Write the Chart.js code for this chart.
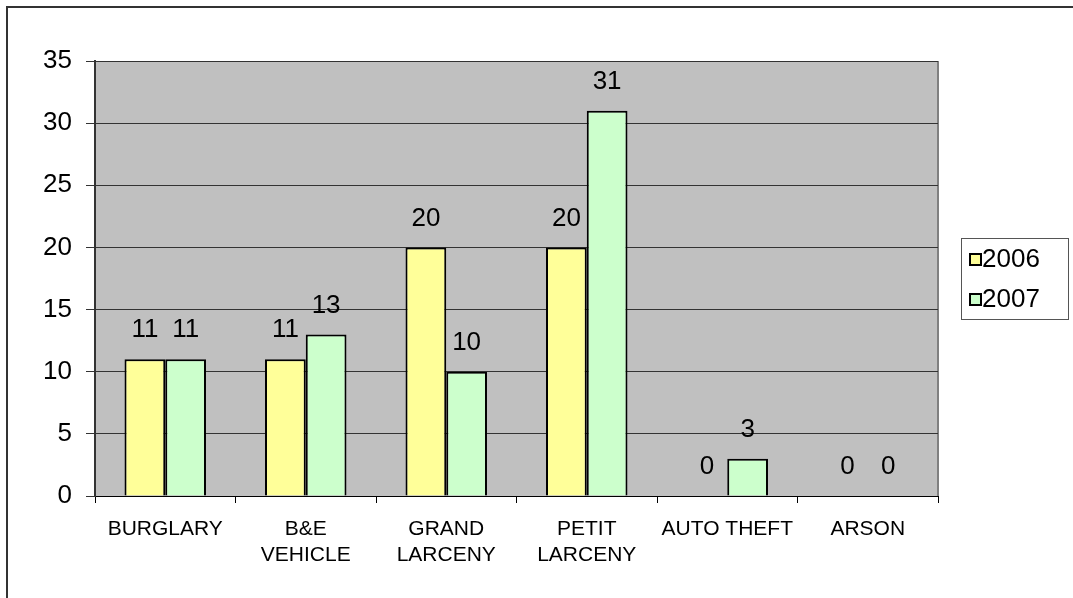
<!DOCTYPE html>
<html lang="en">
<head>
    <meta charset="UTF-8">
    <title>Crimes 2006 / 2007</title>
    <script src="https://cdn.jsdelivr.net/npm/chart.js"></script>
    <style>
        html, body { margin: 0; padding: 0; background: #fff; }
        .wrap { position: relative; width: 1073px; height: 598px; }
    </style>
</head>
<body>
    <div class="wrap">
        <canvas id="barChart" width="1073" height="598"></canvas>
    </div>

    <script>
        // donnees
        const categories = [
            "BURGLARY",
            ["B&E", "VEHICLE"],
            ["GRAND", "LARCENY"],
            ["PETIT", "LARCENY"],
            "AUTO THEFT",
            "ARSON"
        ];
        const values2006 = [11, 11, 20, 20, 0, 0];
        const values2007 = [11, 13, 10, 31, 3, 0];
        const seriesNames = ["2006", "2007"];
        const yTicks = [0, 5, 10, 15, 20, 25, 30, 35];

        const FONT = "'Liberation Sans', Arial, sans-serif";

        // fond gris + cadre exterieur
        const backgroundPlugin = {
            id: 'plotBackground',
            beforeDraw(chart) {
                const { ctx, chartArea: a } = chart;
                ctx.save();
                ctx.fillStyle = '#fff';
                ctx.fillRect(0, 0, chart.width, chart.height);
                ctx.fillStyle = '#C0C0C0';
                ctx.fillRect(a.left, a.top, a.right - a.left, a.bottom - a.top);
                ctx.strokeStyle = '#808080';
                ctx.lineWidth = 2;
                ctx.beginPath();
                ctx.moveTo(a.right, a.top);
                ctx.lineTo(a.right, a.bottom);
                ctx.stroke();
                // cadre de l'image
                ctx.strokeStyle = '#333';
                ctx.lineWidth = 2;
                ctx.beginPath();
                ctx.moveTo(7, chart.height + 2);
                ctx.lineTo(7, 7);
                ctx.lineTo(chart.width + 2, 7);
                ctx.stroke();
                ctx.restore();
            }
        };

        // valeurs au-dessus des barres + legende encadree
        const labelsPlugin = {
            id: 'valueLabels',
            afterDraw(chart) {
                const ctx = chart.ctx;
                ctx.save();
                ctx.font = '26px ' + FONT;
                ctx.fillStyle = '#000';
                ctx.textAlign = 'center';
                ctx.textBaseline = 'middle';
                chart.data.datasets.forEach((ds, i) => {
                    chart.getDatasetMeta(i).data.forEach((bar, j) => {
                        ctx.fillText(String(ds.data[j]), bar.x, bar.y - 29);
                    });
                });

                // legende
                const lx = 961, ly = 238, lw = 107, lh = 81;
                ctx.strokeStyle = '#555';
                ctx.lineWidth = 1;
                ctx.strokeRect(lx + 0.5, ly + 0.5, lw, lh);
                chart.data.datasets.forEach((ds, i) => {
                    const cy = ly + 22 + i * 40;
                    ctx.fillStyle = ds.backgroundColor;
                    ctx.fillRect(lx + 9, cy - 6, 11, 11);
                    ctx.strokeStyle = '#000';
                    ctx.lineWidth = 2;
                    ctx.strokeRect(lx + 9, cy - 6, 11, 11);
                    ctx.fillStyle = '#000';
                    ctx.textAlign = 'left';
                    ctx.fillText(ds.label, lx + 21, cy);
                });
                ctx.restore();
            }
        };

        const ctx = document.getElementById('barChart').getContext('2d');
        const barChart = new Chart(ctx, {
            type: 'bar',
            data: {
                labels: categories,
                datasets: [{
                    label: seriesNames[0],
                    data: values2006,
                    backgroundColor: '#FFFF99',
                    borderColor: '#000',
                    borderWidth: 2,
                    borderSkipped: 'start'
                }, {
                    label: seriesNames[1],
                    data: values2007,
                    backgroundColor: '#CCFFCC',
                    borderColor: '#000',
                    borderWidth: 2,
                    borderSkipped: 'start'
                }]
            },
            options: {
                responsive: false,
                animation: false,
                devicePixelRatio: 1,
                layout: { padding: { left: 0, top: 61, right: 135, bottom: 0 } },
                plugins: {
                    legend: { display: false },
                    tooltip: { enabled: false },
                    title: { display: false }
                },
                datasets: {
                    bar: { categoryPercentage: 0.58, barPercentage: 1.0 }
                },
                scales: {
                    x: {
                        afterFit: s => { s.height = 598 - 61 - 435; },
                        grid: {
                            offset: true,
                            drawOnChartArea: false,
                            drawTicks: true,
                            tickLength: 7,
                            color: '#000'
                        },
                        border: { display: true, color: '#000', width: 1 },
                        ticks: {
                            color: '#000',
                            font: { family: FONT, size: 21, lineHeight: 1.25 },
                            padding: 13,
                            maxRotation: 0,
                            autoSkip: false
                        }
                    },
                    y: {
                        min: 0,
                        max: 35,
                        afterFit: s => { s.width = 95; },
                        afterBuildTicks: s => { s.ticks = yTicks.map(v => ({ value: v })); },
                        grid: {
                            color: '#333',
                            lineWidth: 1,
                            drawTicks: true,
                            tickLength: 9
                        },
                        border: { display: true, color: '#333', width: 2 },
                        ticks: {
                            color: '#000',
                            font: { family: FONT, size: 26 },
                            padding: 14
                        }
                    }
                }
            },
            plugins: [backgroundPlugin, labelsPlugin]
        });
    </script>
</body>
</html>
